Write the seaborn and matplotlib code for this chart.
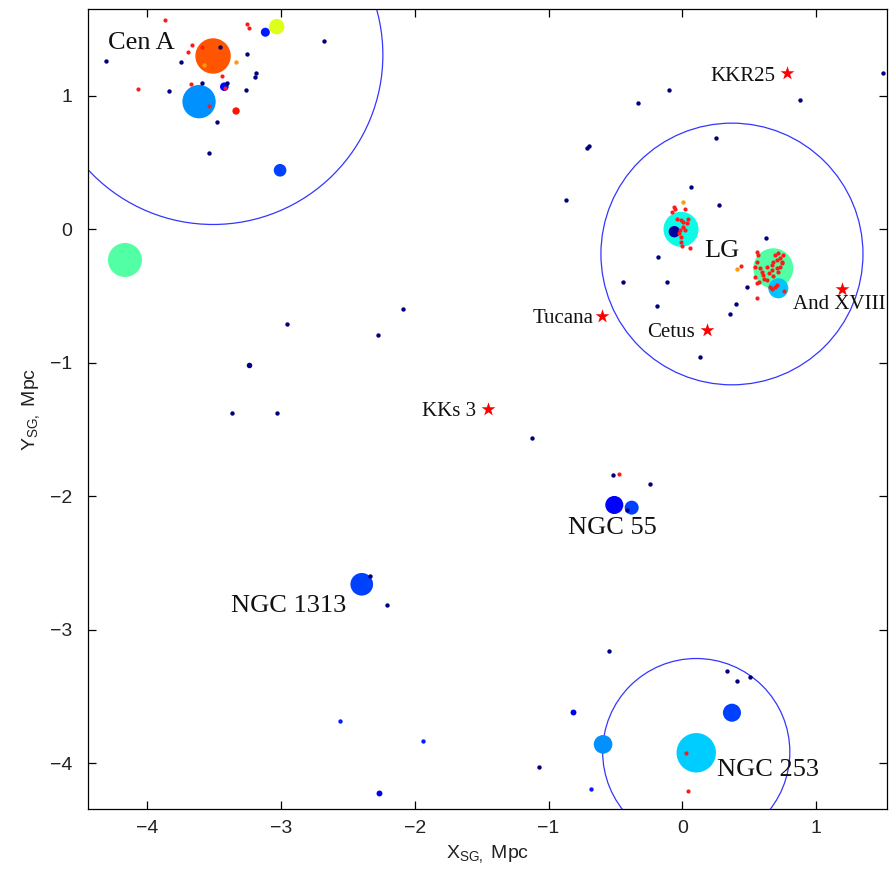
import matplotlib
matplotlib.use("Agg")
import matplotlib.pyplot as plt
from matplotlib.patches import Circle
import numpy as np
import pandas as pd
import seaborn as sns

# ---- Bright galaxies: supergalactic X, Y (Mpc), symbol diameter, colour tone (jet scale)
disk_x = [-3.509, -3.614, -3.033, -3.118, -3.008, -3.337, -3.425, -4.168, -0.009,
          -0.059, 0.681, 0.719, -0.508, -0.378, -2.397, 0.105, 0.372, -0.592]
disk_y = [1.298, 0.956, 1.518, 1.476, 0.442, 0.886, 1.068, -0.230, 0.000,
          -0.018, -0.292, -0.442, -2.065, -2.085, -2.659, -3.921, -3.621, -3.858]
disk_diam = [25.5, 24.0, 11.1, 6.5, 9.1, 5.3, 6.2, 24.5, 25.2,
             8.2, 28.8, 14.4, 13.0, 10.1, 16.3, 28.4, 13.0, 13.4]
disk_tone = [0.82, 0.266, 0.62, 0.15, 0.19, 0.89, 0.13, 0.45, 0.37,
             0.03, 0.45, 0.32, 0.125, 0.19, 0.19, 0.325, 0.19, 0.266]

# ---- Faint dwarfs
navy_x = [-4.310, -3.751, -3.255, -3.457, -3.188, -3.195, -3.589, -3.836, -3.265, -3.407,
          -3.479, -3.539, -2.681, 1.504, -0.101, -0.328, 0.883, 0.251, -0.714, -0.697,
          0.064, -0.871, 0.277, -0.179, 0.625, -0.114, 0.482, 0.405, -0.191, -0.445,
          0.355, 0.131, -2.088, -2.956, -2.277, -3.369, -3.033, -1.126, -0.515, -0.239,
          -2.335, -2.210, -0.550, 0.337, 0.412, 0.507, -1.071, -0.410]
navy_y = [1.258, 1.251, 1.315, 1.368, 1.173, 1.143, 1.098, 1.038, 1.043, 1.094,
          0.804, 0.574, 1.408, 1.173, 1.041, 0.944, 0.969, 0.682, 0.607, 0.622,
          0.319, 0.219, 0.180, -0.210, -0.063, -0.397, -0.434, -0.562, -0.575, -0.393,
          -0.637, -0.954, -0.595, -0.712, -0.794, -1.376, -1.378, -1.566, -1.840, -1.906,
          -2.597, -2.814, -3.161, -3.311, -3.386, -3.354, -4.030, -2.100]
navy_big_x = [-3.240]
navy_big_y = [-1.014]

blue_x = [-2.562, -1.939, -0.682]
blue_y = [-3.681, -3.833, -4.190]
blue_big_x = [-2.268, -0.819]
blue_big_y = [-4.225, -3.613]

red_x = [-3.868, -3.253, -3.240, -3.666, -3.694, -3.594, -4.068, -3.676, -3.440, -3.417,
         -3.537, -0.475, 0.031, 0.041, -0.079, -0.054, -0.059, 0.019, -0.037, -0.011,
         0.008, 0.034, 0.046, 0.004, -0.016, 0.021, -0.022, -0.011, -0.011, -0.004,
         0.058, 0.438, 0.562, 0.569, 0.557, 0.545, 0.582, 0.632, 0.669, 0.681,
         0.707, 0.731, 0.744, 0.756, 0.719, 0.694, 0.731, 0.707, 0.669, 0.651,
         0.607, 0.612, 0.632, 0.577, 0.557, 0.657, 0.669, 0.694, 0.707, 0.562,
         0.761, 0.744, 0.719, 0.681, 0.595, 0.545]
red_y = [1.566, 1.538, 1.506, 1.383, 1.326, 1.368, 1.049, 1.088, 1.148, 1.058,
         0.924, -1.835, -3.923, -4.208, 0.132, 0.150, 0.169, 0.150, 0.075, 0.070,
         0.057, 0.045, 0.075, 0.019, -0.005, -0.005, -0.030, -0.060, -0.093, -0.123,
         -0.142, -0.275, -0.172, -0.193, -0.243, -0.285, -0.292, -0.285, -0.267, -0.243,
         -0.230, -0.217, -0.243, -0.193, -0.180, -0.193, -0.280, -0.292, -0.305, -0.330,
         -0.342, -0.372, -0.380, -0.392, -0.404, -0.434, -0.449, -0.430, -0.417, -0.517,
         -0.460, -0.255, -0.318, -0.350, -0.318, -0.355]

orange_x = [-3.577, -3.340, 0.004, 0.410]
orange_y = [1.231, 1.253, 0.202, -0.300]

# ---- Isolated dwarfs marked with stars
star_names = ["KKR25", "Tucana", "Cetus", "And XVIII", "KKs 3"]
star_x = [0.786, -0.598, 0.183, 1.193, -1.450]
star_y = [1.171, -0.649, -0.754, -0.445, -1.346]

# ---- Zero-velocity spheres around the main groups
ring_x = [-3.509, 0.372, 0.105]
ring_y = [1.306, -0.185, -3.915]
ring_r = [1.27, 0.98, 0.70]

# ---- Group labels
group_names = ["Cen A", "LG", "NGC 55", "NGC 1313", "NGC 253"]
group_x = [-4.297, 0.163, -0.852, -3.377, 0.258]
group_y = [1.348, -0.205, -2.284, -2.864, -4.095]

sns.set_theme(style="ticks")
plt.rcParams.update({
    "font.family": ["Liberation Sans Narrow", "Liberation Sans", "DejaVu Sans"],
    "mathtext.fontset": "custom",
    "mathtext.rm": "Liberation Sans",
    "mathtext.it": "Liberation Sans:italic",
    "axes.edgecolor": "black",
    "axes.linewidth": 0.9,
})

fig = plt.figure(figsize=(8.91, 8.82), dpi=100)
fig.patch.set_facecolor("white")
ax = fig.add_axes([0.0984, 0.0828, 0.8976, 0.907])
ax.set_facecolor("white")

for cx, cy, r in zip(ring_x, ring_y, ring_r):
    ax.add_patch(Circle((cx, cy), r, fill=False, ec="#3535ff", lw=0.9, zorder=1))

disks = pd.DataFrame({"x": disk_x, "y": disk_y, "tone": disk_tone, "diam": disk_diam})
disks = disks.sort_values("diam", ascending=False).reset_index(drop=True)
sns.scatterplot(data=disks, x="x", y="y", hue="tone", palette=matplotlib.colormaps["jet"],
                hue_norm=(0, 1), s=(disks["diam"] ** 2).to_numpy(), linewidth=0,
                legend=False, ax=ax, zorder=2)

dot_kw = dict(linewidth=0, legend=False, ax=ax, zorder=3)
sns.scatterplot(x=navy_x, y=navy_y, color="#00007c", s=10, **dot_kw)
sns.scatterplot(x=navy_big_x, y=navy_big_y, color="#00008a", s=16, **dot_kw)
sns.scatterplot(x=blue_x, y=blue_y, color="#0a1cff", s=10, **dot_kw)
sns.scatterplot(x=blue_big_x, y=blue_big_y, color="#0000f0", s=18, **dot_kw)
sns.scatterplot(x=orange_x, y=orange_y, color="#ff9a10", s=10, **dot_kw)
sns.scatterplot(x=red_x, y=red_y, color="#ff1a1a", s=9, **dot_kw)
sns.scatterplot(x=star_x, y=star_y, color="#ff0000", marker="*", s=110,
                linewidth=0, legend=False, ax=ax, zorder=5)

serif = ["Liberation Serif", "DejaVu Serif"]
star_offsets = {"KKR25": (-8.4, -5.8, "right"), "Tucana": (-6.5, -5.3, "right"),
                "Cetus": (-8.4, -5.3, "right"), "And XVIII": (-34.8, -14.6, "left"),
                "KKs 3": (-9.0, -4.8, "right")}
for name, sx, sy in zip(star_names, star_x, star_y):
    dx, dy, ha = star_offsets[name]
    ax.annotate(name, (sx, sy), xytext=(dx, dy), textcoords="offset points",
                ha=ha, va="baseline", fontsize=15, family=serif, color="#111111",
                zorder=6, annotation_clip=False)

for name, gx, gy in zip(group_names, group_x, group_y):
    ax.text(gx, gy, name, ha="left", va="baseline", fontsize=19, family=serif,
            color="#111111", zorder=6)

ax.set_xlim(-4.447, 1.535)
ax.set_ylim(-4.342, 1.65)
ax.set_xticks([-4, -3, -2, -1, 0, 1])
ax.set_yticks([-4, -3, -2, -1, 0, 1])
ax.tick_params(direction="in", top=True, right=True, length=6, width=0.9,
               labelsize=14, pad=8, colors="black", labelcolor="#222222")
ax.tick_params(axis="y", pad=11)
for s in ax.spines.values():
    s.set_visible(True)
    s.set_color("black")

ax.set_xlabel(r"X$_{\mathrm{SG,}}$ Mpc", fontsize=14, labelpad=4, color="#222222")
ax.set_ylabel(r"Y$_{\mathrm{SG,}}$ Mpc", fontsize=14, labelpad=6, color="#222222")

fig.savefig("out.png", dpi=100, facecolor="white")
